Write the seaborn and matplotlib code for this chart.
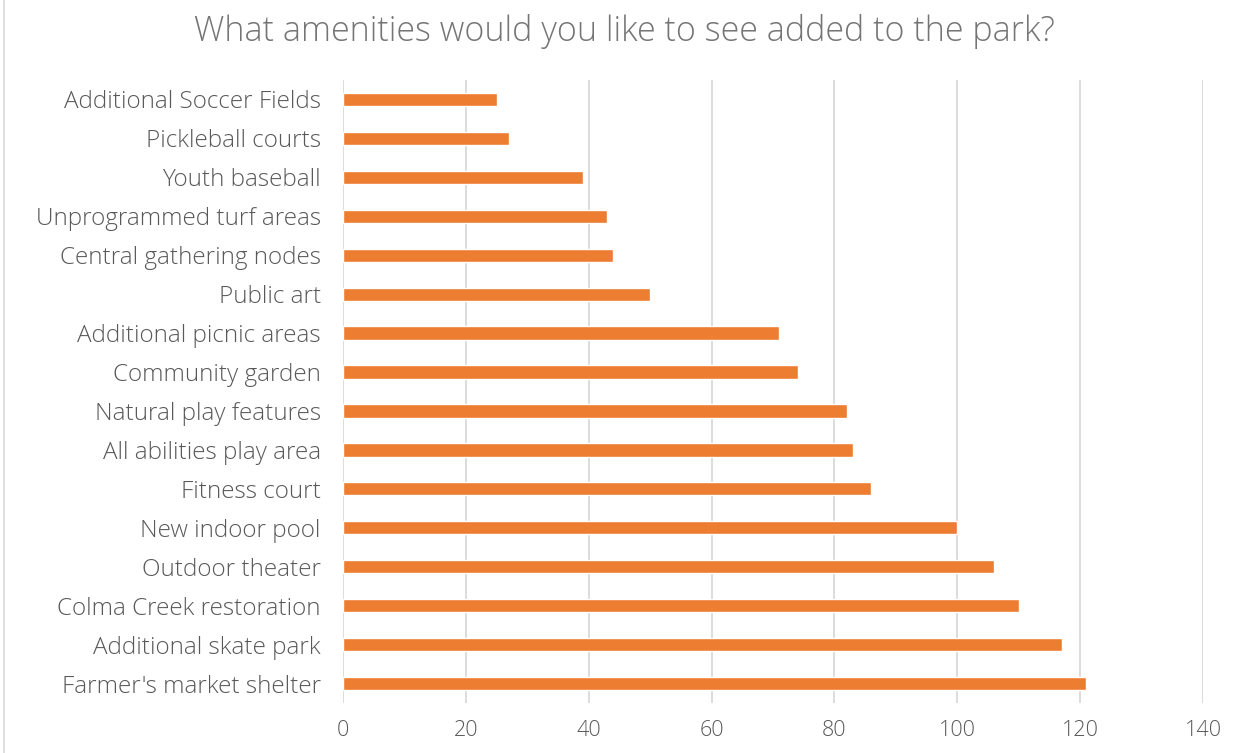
import matplotlib
matplotlib.use("Agg")
import matplotlib.pyplot as plt
import seaborn as sns
import pandas as pd
from matplotlib.lines import Line2D

categories = [
    "Additional Soccer Fields", "Pickleball courts", "Youth baseball",
    "Unprogrammed turf areas", "Central gathering nodes", "Public art",
    "Additional picnic areas", "Community garden", "Natural play features",
    "All abilities play area", "Fitness court", "New indoor pool",
    "Outdoor theater", "Colma Creek restoration", "Additional skate park",
    "Farmer's market shelter",
]
values = [25, 27, 39, 43, 44, 50, 71, 74, 82, 83, 86, 100, 106, 110, 117, 121]
x_ticks = [0, 20, 40, 60, 80, 100, 120, 140]
title = "What amenities would you like to see added to the park?"

sns.set_theme(style="white")
plt.rcParams['font.family'] = ['Open Sans', 'DejaVu Sans']

df = pd.DataFrame({"Amenity": categories, "Count": values})

fig = plt.figure(figsize=(12.49, 7.53), dpi=100)
ax = fig.add_axes([343/1249, 50/753, (1203-343)/1249, (703-80)/753])

sns.barplot(data=df, y="Amenity", x="Count", orient="h", color="#ED7D31",
            saturation=1, width=0.34, ax=ax, zorder=3)

ax.set_xlim(0, 140)
ax.set_xticks(x_ticks)
ax.set_xticklabels([str(t) for t in x_ticks])
ax.grid(axis="x", color="#D9D9D9", linewidth=1.3, zorder=0)
ax.set_axisbelow(True)
for s in ax.spines.values():
    s.set_visible(False)
ax.set_xlabel("")
ax.set_ylabel("")
ax.tick_params(axis="both", length=0, colors="#595959")
ax.tick_params(axis="x", pad=12, labelsize=15.5)
ax.tick_params(axis="y", pad=16, labelsize=17.5)
for lbl in ax.get_xticklabels() + ax.get_yticklabels():
    lbl.set_fontweight("light")

fig.text(0.5, 0.958, title, ha="center", va="center", fontsize=24.5,
         color="#757575", fontweight="light")
fig.add_artist(Line2D([4/1249, 4/1249], [0, 1], transform=fig.transFigure,
                      color="#D9D9D9", linewidth=1.2))

fig.savefig("out.png", dpi=100)
